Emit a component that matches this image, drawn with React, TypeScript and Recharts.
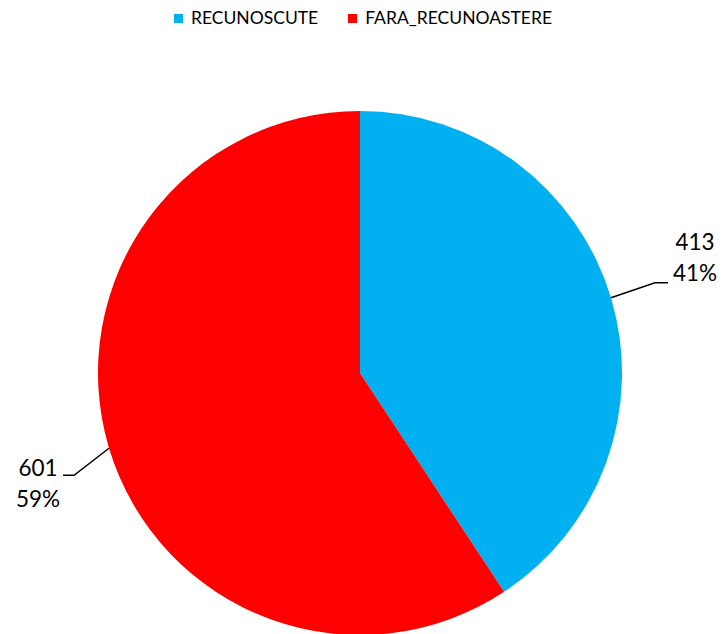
import React from "react";
import { PieChart, Pie, Cell } from "recharts";

const categories = ["RECUNOSCUTE", "FARA_RECUNOASTERE"];
const values = [413, 601];
const colors = ["#00B0F0", "#FF0000"];

const data = categories.map((name, i) => ({ name, value: values[i] }));
const total = values.reduce((a, b) => a + b, 0);

const FONT = "Lato, 'Open Sans', sans-serif";
const RAD = Math.PI / 180;

const renderLabel = (props: any) => {
  const { cx, cy, midAngle, outerRadius, value } = props;
  const cos = Math.cos(-midAngle * RAD);
  const sin = Math.sin(-midAngle * RAD);
  const sx = cx + outerRadius * cos;
  const sy = cy + outerRadius * sin;
  const right = cos >= 0;
  const ex = right ? sx + 44 : sx - 35;
  const ey = right ? sy - 15 : sy + 27;
  const hx = right ? ex + 13 : ex - 11;
  const tx = right ? hx + 27 : hx - 25;
  const y1 = right ? ey - 41 : ey - 8;
  const y2 = right ? ey - 10 : ey + 23;
  const pct = Math.round((value / total) * 100) + "%";
  return (
    <g>
      <polyline
        points={`${sx},${sy} ${ex},${ey} ${hx},${ey}`}
        fill="none"
        stroke="#000"
        strokeWidth={1.5}
      />
      <text x={tx} y={y1} textAnchor="middle" dominantBaseline="central" fontFamily={FONT} fontSize={22.5} fill="#000">
        {value}
      </text>
      <text x={tx} y={y2} textAnchor="middle" dominantBaseline="central" fontFamily={FONT} fontSize={22.5} fill="#000">
        {pct}
      </text>
    </g>
  );
};

export default function App() {
  return (
    <div style={{ position: "relative", width: 722, height: 634, background: "#fff", overflow: "hidden" }}>
      <style>{`html,body{margin:0;padding:0;overflow:hidden;}`}</style>
      <div
        style={{
          position: "absolute",
          top: 7,
          left: 0,
          width: 722,
          display: "flex",
          justifyContent: "center",
          alignItems: "center",
          fontFamily: FONT,
          fontSize: 17.5,
          lineHeight: "22px",
          color: "#000",
          gap: 30,
          paddingLeft: 4,
          boxSizing: "border-box",
        }}
      >
        {categories.map((c, i) => (
          <div key={c} style={{ display: "flex", alignItems: "center" }}>
            <span style={{ display: "inline-block", width: 9, height: 9, background: colors[i], marginRight: 8 }} />
            <span>{c}</span>
          </div>
        ))}
      </div>
      <PieChart width={722} height={634} margin={{ top: 0, right: 0, bottom: 0, left: 0 }}>
        <Pie
          data={data}
          dataKey="value"
          nameKey="name"
          cx={360}
          cy={373}
          outerRadius={262}
          startAngle={90}
          endAngle={-270}
          stroke="none"
          labelLine={false}
          label={renderLabel}
          isAnimationActive={false}
        >
          {data.map((d, i) => (
            <Cell key={d.name} fill={colors[i]} />
          ))}
        </Pie>
      </PieChart>
    </div>
  );
}
